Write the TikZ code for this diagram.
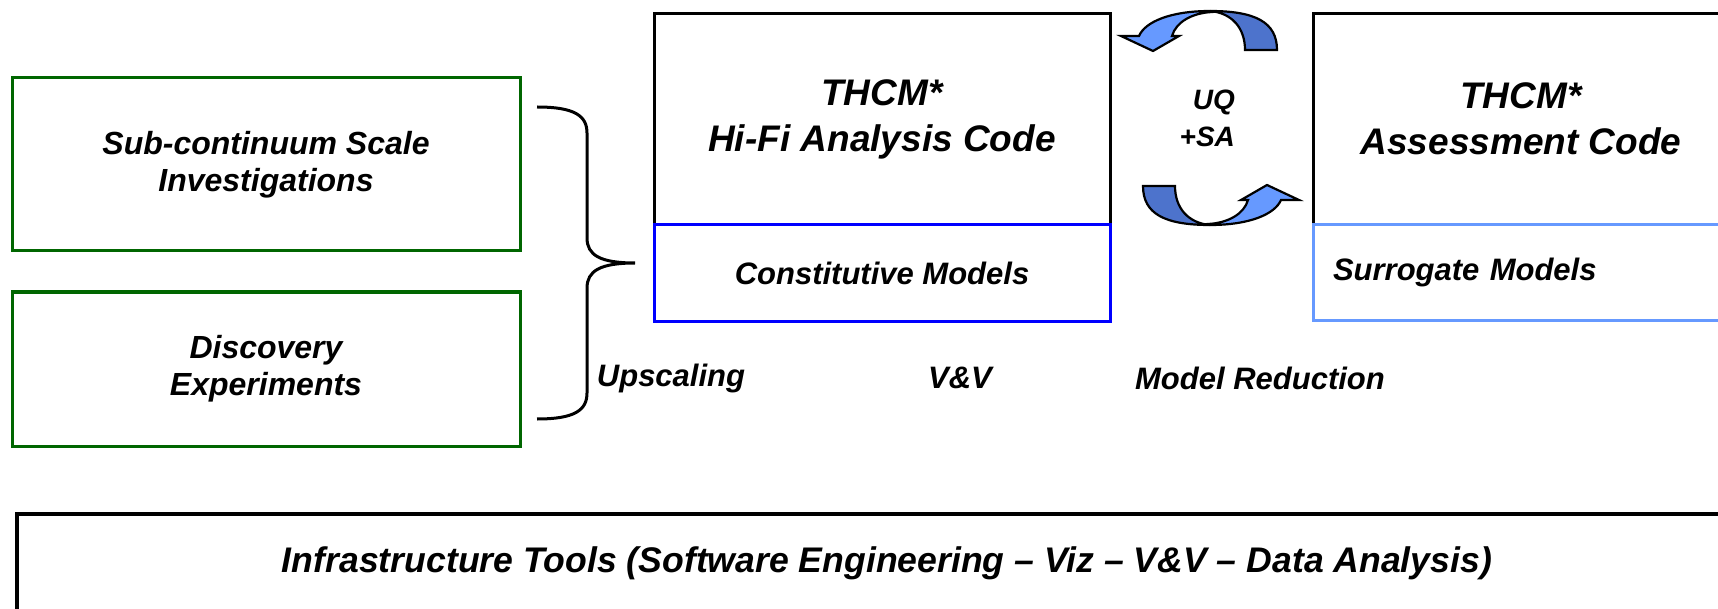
\documentclass[tikz,border=0pt]{standalone}
\usepackage{fontspec}
\setmainfont{Liberation Sans}
\usetikzlibrary{positioning}

\definecolor{srcgreen}{RGB}{0,102,0}
\definecolor{modelblue}{RGB}{0,0,255}
\definecolor{surrblue}{RGB}{102,153,255}
\definecolor{arrowlight}{RGB}{102,153,255}
\definecolor{arrowdark}{RGB}{77,115,204}

% one half of the UQ+SA cycle
\newcommand{\cyclearrow}{%
	\filldraw[turn, fill=arrowdark] (1277,50) .. controls (1277,22) and (1255,11) .. (1210,11)
		.. controls (1232,13) and (1245,28) .. (1245,50) -- cycle;
	\filldraw[turn, fill=arrowlight] (1210,11) .. controls (1170,11) and (1145,22) .. (1139,36)
		-- (1121,36) -- (1153,51) -- (1179,36) -- (1172,36)
		.. controls (1176,22) and (1192,13) .. (1212,12) -- cycle;
}

\begin{document}
\begin{tikzpicture}[x=0.5pt, y=-0.5pt,
			every node/.style={font=\bfseries\itshape\fontsize{15.5}{18.5}\selectfont, align=center},
			source/.style={rectangle, draw=srcgreen, line width=1.5pt, minimum width=254pt, outer sep=0pt, font=\bfseries\itshape\fontsize{16}{18.5}\selectfont},
			code/.style={rectangle, draw, line width=1.5pt, minimum height=105.5pt, outer sep=0pt, font=\bfseries\itshape\fontsize{18.5}{23}\selectfont},
			model/.style={rectangle, draw, line width=1.5pt, minimum height=48pt, outer sep=0pt},
			turn/.style={draw=black, line width=1.1pt},
			brace/.style={line width=1.5pt}
		]
		\clip (0,0) rectangle (1718,609);

		% Sources
		\node[source, minimum height=86.5pt] (subscale) at (266,164.5) {Sub-continuum Scale\\Investigations};
		\node[source, minimum height=77pt] (discovery) at (266,369) {Discovery\\Experiments};
		\draw[brace] (537,107) .. controls (575,107) and (587,116) .. (587,133) -- (587,238)
			.. controls (587,255) and (600,263) .. (635,263)
			.. controls (600,263) and (587,271) .. (587,288) -- (587,393)
			.. controls (587,410) and (575,419) .. (537,419);

		% Hi-Fi code
		\node[code, minimum width=228pt] (hifi) at (882,119.5) {THCM*\\Hi-Fi Analysis Code};
		\node[model, draw=modelblue, minimum width=228pt, below=0pt of hifi] (constit) {Constitutive Models};

		% Assessment code
		\node[code, minimum width=208pt] (assess) at (1521,119) {THCM*\\Assessment Code};
		\node[model, draw=surrblue, text width=188pt, inner xsep=10pt, align=left, below=0pt of assess] (surrogate) {Surrogate Models};

		% UQ+SA
		\cyclearrow
		\begin{scope}[rotate around={180:(1210,118)}]
			\cyclearrow
		\end{scope}
		\node[anchor=east, font=\bfseries\itshape\fontsize{14}{18.5}\selectfont, align=right] (uqsa) at (1242,118.5) {UQ\\+SA};

		% Steps
		\node (upscaling) at (671,378) {Upscaling};
		\node (vandv) at (960,378) {V\&V};
		\node (reduction) at (1260,378) {Model Reduction};

		% Infrastructure
		\node[draw, line width=2pt, minimum width=870pt, minimum height=49pt, outer sep=0pt,
			font=\bfseries\itshape\fontsize{17.8}{21}\selectfont] (infra) at (887,563)
			{Infrastructure Tools (Software Engineering – Viz – V\&V – Data Analysis)};

	\end{tikzpicture}
\end{document}
